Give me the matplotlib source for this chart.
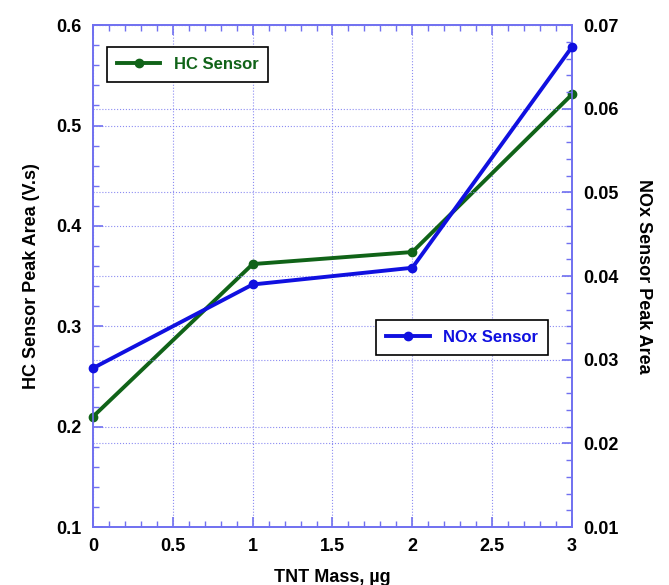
import matplotlib
matplotlib.use("Agg")
from matplotlib import pyplot as plt
from matplotlib.ticker import MultipleLocator

plt.rcParams["font.family"] = ["Liberation Sans", "DejaVu Sans"]
plt.rcParams["font.weight"] = "bold"

tnt_mass = [0, 1, 2, 3]
hc_area = [0.210, 0.362, 0.374, 0.531]
nox_area = [0.0290, 0.0390, 0.0410, 0.0674]

hc_color = "#106318"
nox_color = "#1010e0"
axis_blue = "#7070f0"

fig = plt.figure(figsize=(6.69, 5.85), dpi=100)
ax = fig.add_axes([0.139, 0.099, 0.716, 0.858])
ax2 = ax.twinx()

ax.plot(tnt_mass, hc_area, color=hc_color, lw=2.8, marker="o", ms=6, label="HC Sensor", clip_on=False, zorder=5)
ax2.plot(tnt_mass, nox_area, color=nox_color, lw=2.8, marker="o", ms=6, label="NOx Sensor", clip_on=False, zorder=5)

ax.set_xlim(0, 3)
ax.set_ylim(0.1, 0.6)
ax2.set_ylim(0.01, 0.07)

ax.xaxis.set_major_locator(MultipleLocator(0.5))
ax.xaxis.set_minor_locator(MultipleLocator(0.1))
ax.yaxis.set_major_locator(MultipleLocator(0.1))
ax.yaxis.set_minor_locator(MultipleLocator(0.02))
ax2.yaxis.set_major_locator(MultipleLocator(0.01))
ax2.yaxis.set_minor_locator(MultipleLocator(0.002))

fmt = plt.FuncFormatter(lambda v, p: f"{v:g}")
ax.xaxis.set_major_formatter(fmt)
ax.yaxis.set_major_formatter(fmt)
ax2.yaxis.set_major_formatter(fmt)

for a in (ax, ax2):
    for s in a.spines.values():
        s.set_color(axis_blue)
        s.set_linewidth(1.2)
    a.tick_params(which="both", direction="in", colors=axis_blue, labelcolor="black", labelsize=13)
    a.tick_params(which="major", length=7, width=1.2)
    a.tick_params(which="minor", length=4, width=1)

ax.tick_params(axis="x", which="both", top=True, pad=8)
ax.tick_params(axis="y", pad=8)
ax2.tick_params(axis="y", pad=8)

ax.grid(True, which="major", color="#8c8cf2", ls=":", lw=0.8)
ax2.grid(True, which="major", axis="y", color="#8c8cf2", ls=":", lw=0.8)

ax.set_xlabel("TNT Mass, µg", fontsize=13, fontweight="bold", labelpad=10)
ax.set_ylabel("HC Sensor Peak Area (V.s)", fontsize=13, fontweight="bold", labelpad=12)
ax2.set_ylabel("NOx Sensor Peak Area", fontsize=13, fontweight="bold", rotation=270, labelpad=24)

leg1 = ax.legend(loc="upper left", bbox_to_anchor=(0.029, 0.956), borderaxespad=0, fancybox=False,
                 edgecolor="black", framealpha=1, fontsize=12, handlelength=2.6, borderpad=0.6)
leg1.get_frame().set_linewidth(1.2)
for t in leg1.get_texts():
    t.set_color(hc_color)
leg2 = ax2.legend(loc="upper right", bbox_to_anchor=(0.95, 0.412), borderaxespad=0, fancybox=False,
                  edgecolor="black", framealpha=1, fontsize=12, handlelength=2.6, borderpad=0.6)
leg2.get_frame().set_linewidth(1.2)
for t in leg2.get_texts():
    t.set_color(nox_color)

fig.savefig("out.png", dpi=100)
